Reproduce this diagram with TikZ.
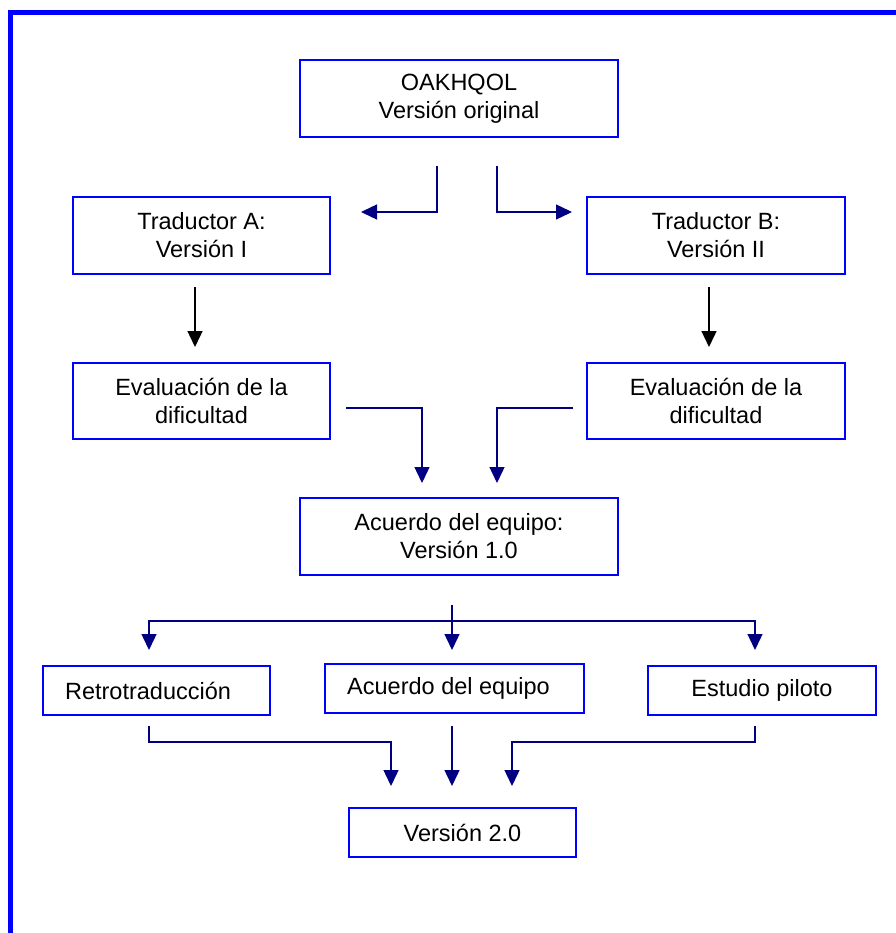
\documentclass[tikz,border=0pt]{standalone}
\usepackage{fontspec}
\setmainfont{Liberation Sans}
\usetikzlibrary{arrows.meta}
\definecolor{flowline}{RGB}{0,0,128}
\definecolor{boxblue}{RGB}{0,0,255}
\begin{document}
\begin{tikzpicture}[x=1pt,y=-1pt,
  box/.style={draw=boxblue, line width=1.8pt, inner sep=0pt, align=center,
    font=\fontsize{23.5}{28}\selectfont},
  onebox/.style={draw=boxblue, line width=1.8pt, inner sep=0pt,
    font=\fontsize{23.5}{28}\selectfont, minimum height=49pt},
  tip/.style={-{Triangle[length=16pt,width=15pt]}},
  flow/.style={draw=flowline, line width=1.4pt, tip},
  flowk/.style={draw=black, line width=1.4pt, tip}]
\useasboundingbox (0,0) rectangle (895,933);

% frame on the left and top
\draw[boxblue, line width=5pt, line join=miter] (10.5,940) -- (10.5,12.5) -- (900,12.5);

% boxes
\node[box, minimum width=318pt, minimum height=77pt] (orig) at (459,98.5) {OAKHQOL\\Versión original};
\node[box, minimum width=257pt, minimum height=77pt] (ta) at (201.5,235.5) {Traductor A:\\Versión I};
\node[box, minimum width=258pt, minimum height=77pt] (tb) at (716,235.5) {Traductor B:\\Versión II};
\node[box, minimum width=257pt, minimum height=76pt] (ea) at (201.5,401) {Evaluación de la\\dificultad};
\node[box, minimum width=258pt, minimum height=76pt] (eb) at (716,401) {Evaluación de la\\dificultad};
\node[box, minimum width=318pt, minimum height=77pt] (ac) at (459,536.5) {Acuerdo del equipo:\\Versión 1.0};
\node[onebox, minimum width=227pt] (re) at (156.5,690.5) {Retrotraducción\kern17pt\relax};
\node[onebox, minimum width=259pt] (ae) at (454.5,688.5) {Acuerdo del equipo\kern12pt\relax};
\node[onebox, minimum width=228pt] (pi) at (762,690.5) {Estudio piloto};
\node[onebox, minimum width=227pt] (v2) at (462.5,832.5) {Versión 2.0};

% connector end points
\coordinate (orig-l) at (437,166);
\coordinate (ta-in) at (361,212);
\coordinate (orig-r) at (497,166);
\coordinate (tb-in) at (572,212);
\coordinate (ta-out) at (195,287);
\coordinate (ea-in) at (195,347);
\coordinate (tb-out) at (709,287);
\coordinate (eb-in) at (709,347);
\coordinate (ea-out) at (346,408);
\coordinate (ac-inl) at (422,483);
\coordinate (eb-out) at (573,408);
\coordinate (ac-inr) at (497,483);
\coordinate (ac-out) at (452,605);
\coordinate (split-l) at (149,621);
\coordinate (split-r) at (755,621);
\coordinate (re-in) at (149,650);
\coordinate (ae-in) at (452,650);
\coordinate (pi-in) at (755,650);
\coordinate (re-out) at (149,726);
\coordinate (ae-out) at (452,726);
\coordinate (pi-out) at (755,726);
\coordinate (join-l) at (391,742);
\coordinate (join-r) at (512,742);
\coordinate (v2-inl) at (391,786);
\coordinate (v2-in) at (452,786);
\coordinate (v2-inr) at (512,786);

% connectors
\draw[flow] (orig-l) |- (ta-in);
\draw[flow] (orig-r) |- (tb-in);
\draw[flowk] (ta-out) -- (ea-in);
\draw[flowk] (tb-out) -- (eb-in);
\draw[flow] (ea-out) -| (ac-inl);
\draw[flow] (eb-out) -| (ac-inr);
\draw[flow] (ac-out) -- (ae-in);
\draw[draw=flowline, line width=1.4pt, {Triangle[length=16pt,width=15pt]}-{Triangle[length=16pt,width=15pt]}]
  (re-in) -- (split-l) -- (split-r) -- (pi-in);
\draw[flow] (re-out) |- (join-l) -- (v2-inl);
\draw[flow] (ae-out) -- (v2-in);
\draw[flow] (pi-out) |- (join-r) -- (v2-inr);
\end{tikzpicture}
\end{document}
